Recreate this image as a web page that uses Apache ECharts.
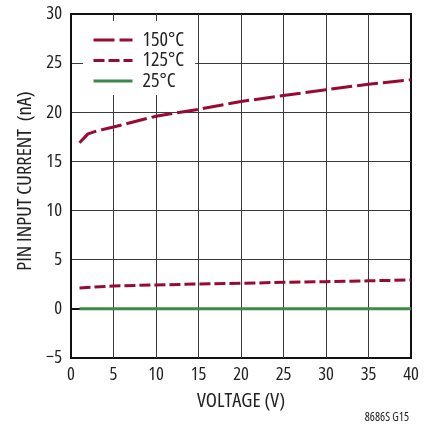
<!DOCTYPE html>
<html>
<head>
<meta charset="utf-8">
<script src="https://cdn.jsdelivr.net/npm/echarts@6/dist/echarts.min.js"></script>
<style>
html,body{margin:0;padding:0;background:#fff;}
#chart{width:432px;height:425px;}
</style>
</head>
<body>
<div id="chart"></div>
<script>
// Data
const voltage150 = [1, 2, 3, 4, 5, 10, 15, 20, 25, 30, 35, 40];
const current150 = [16.9, 17.8, 18.1, 18.3, 18.5, 19.6, 20.3, 21.1, 21.7, 22.3, 22.85, 23.3];
const voltage125 = [1, 5, 10, 15, 20, 25, 30, 35, 40];
const current125 = [2.13, 2.33, 2.43, 2.53, 2.6, 2.7, 2.77, 2.85, 2.94];
const voltage25 = [1, 40];
const current25 = [0, 0];
const seriesNames = ['150°C', '125°C', '25°C'];
const xTicks = [0, 40, 5];
const yTicks = [-5, 30, 5];

const FONT = '"Open Sans", "DejaVu Sans Condensed", sans-serif';
const COND = 'normal condensed';
const RED = '#980a34';
const GREEN = '#3b8a4a';
const TXT = '#222';

const zip = (xs, ys) => xs.map((x, i) => [x, ys[i]]);

const chart = echarts.init(document.getElementById('chart'), null, {renderer: 'canvas'});
chart.setOption({
  backgroundColor: '#fff',
  animation: false,
  grid: {left: 71, right: 21, top: 14, bottom: 67, show: true, borderColor: '#111', borderWidth: 2, backgroundColor: 'transparent'},
  xAxis: {
    type: 'value', min: xTicks[0], max: xTicks[1], interval: xTicks[2],
    name: 'VOLTAGE (V)', nameLocation: 'middle', nameGap: 33,
    nameTextStyle: {fontFamily: FONT, fontWeight: COND, fontSize: 20.5, color: TXT},
    axisLine: {show: true, lineStyle: {color: '#111', width: 2}},
    axisTick: {show: false},
    axisLabel: {fontFamily: FONT, fontWeight: COND, fontSize: 18.5, color: TXT, margin: 7},
    splitLine: {show: true, showMinLine: false, showMaxLine: false, lineStyle: {color: '#3a3a3a', width: 1}}
  },
  yAxis: {
    type: 'value', min: yTicks[0], max: yTicks[1], interval: yTicks[2],
    name: 'PIN INPUT CURRENT  (nA)', nameLocation: 'middle', nameGap: 33,
    nameTextStyle: {fontFamily: FONT, fontWeight: COND, fontSize: 20.5, color: TXT, padding: [0, 0, 0, 10]},
    axisLine: {show: true, lineStyle: {color: '#111', width: 2}},
    axisTick: {show: false},
    axisLabel: {fontFamily: FONT, fontWeight: COND, fontSize: 18.5, color: TXT, margin: 9,
      formatter: v => (v < 0 ? '\u2212' + Math.abs(v) : String(v))},
    splitLine: {show: true, showMinLine: false, showMaxLine: false, lineStyle: {color: '#3a3a3a', width: 1}}
  },
  legend: {
    orient: 'vertical', left: 83, top: 21,
    padding: [9, 11, 4, 9],
    backgroundColor: '#fff',
    itemWidth: 39, itemHeight: 14, itemGap: 0.5,
    data: seriesNames,
    itemStyle: {opacity: 0},
    lineStyle: {width: 3},
    textStyle: {fontFamily: FONT, fontWeight: COND, fontSize: 20, color: TXT, lineHeight: 20, padding: [0, 0, 0, 5]},
    z: 10
  },
  series: [
    {name: seriesNames[0], type: 'line', data: zip(voltage150, current150), showSymbol: false, symbol: 'none',
      lineStyle: {color: RED, width: 3, type: [21, 5], cap: 'butt'}, itemStyle: {color: RED}},
    {name: seriesNames[1], type: 'line', data: zip(voltage125, current125), showSymbol: false, symbol: 'none',
      lineStyle: {color: RED, width: 3, type: [11, 4], cap: 'butt'}, itemStyle: {color: RED}},
    {name: seriesNames[2], type: 'line', data: zip(voltage25, current25), showSymbol: false, symbol: 'none',
      lineStyle: {color: GREEN, width: 3}, itemStyle: {color: GREEN}}
  ],
  graphic: [{
    type: 'text', right: 23, bottom: 1,
    style: {text: '8686S G15', fontFamily: FONT, fontWeight: COND, fontSize: 12, fill: TXT}
  }]
});
</script>
</body>
</html>
